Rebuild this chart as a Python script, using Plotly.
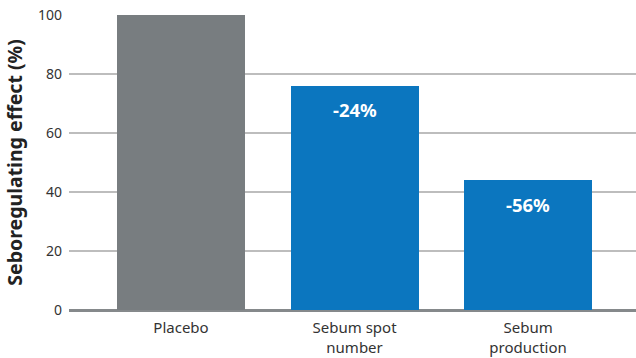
import plotly.graph_objects as go

# Seboregulating effect relative to placebo
categories = ["Placebo", "Sebum spot<br>number", "Sebum<br>production"]
values = [100, 76, 44]
bar_colors = ["#787d80", "#0b76bf", "#0b76bf"]
y_ticks = [0, 20, 40, 60, 80, 100]

FONT = "Noto Sans"

fig = go.Figure(
    go.Bar(
        x=list(range(len(categories))),
        y=values,
        marker=dict(color=bar_colors, line=dict(width=0)),
        width=0.738,
        hoverinfo="skip",
    )
)

# reduction labels inside the treated bars
for i, v in enumerate(values):
    if v < 100:
        fig.add_annotation(
            x=i, y=v, xref="x", yref="y",
            text=f"<b>{v - 100}%</b>",
            showarrow=False,
            yshift=-24,
            font=dict(family=FONT, size=18.5, color="white"),
        )

fig.update_layout(
    width=636, height=358,
    margin=dict(l=69, r=0, t=15, b=48),
    paper_bgcolor="white",
    plot_bgcolor="white",
    showlegend=False,
    bargap=0,
    font=dict(family=FONT, color="#333333"),
    xaxis=dict(
        range=[-0.6455, 2.622],
        tickmode="array",
        tickvals=list(range(len(categories))),
        ticktext=categories,
        tickfont=dict(size=15, color="#333333"),
        showgrid=False, zeroline=False, showline=False,
        ticks="",
        ticklabelstandoff=7,
    ),
    yaxis=dict(
        range=[0, 100],
        tickmode="array",
        tickvals=y_ticks,
        tickfont=dict(size=14, color="#333333"),
        showgrid=True, gridcolor="#bdbdbd", gridwidth=2,
        zeroline=True, zerolinecolor="#85898b", zerolinewidth=3,
        showline=False, ticks="",
        ticklabelstandoff=6,
        title=dict(
            text="<b>Seboregulating effect (%)</b>",
            font=dict(family=FONT, size=19.5, color="#222222"),
            standoff=10,
        ),
    ),
)

fig.write_html("out.html")
